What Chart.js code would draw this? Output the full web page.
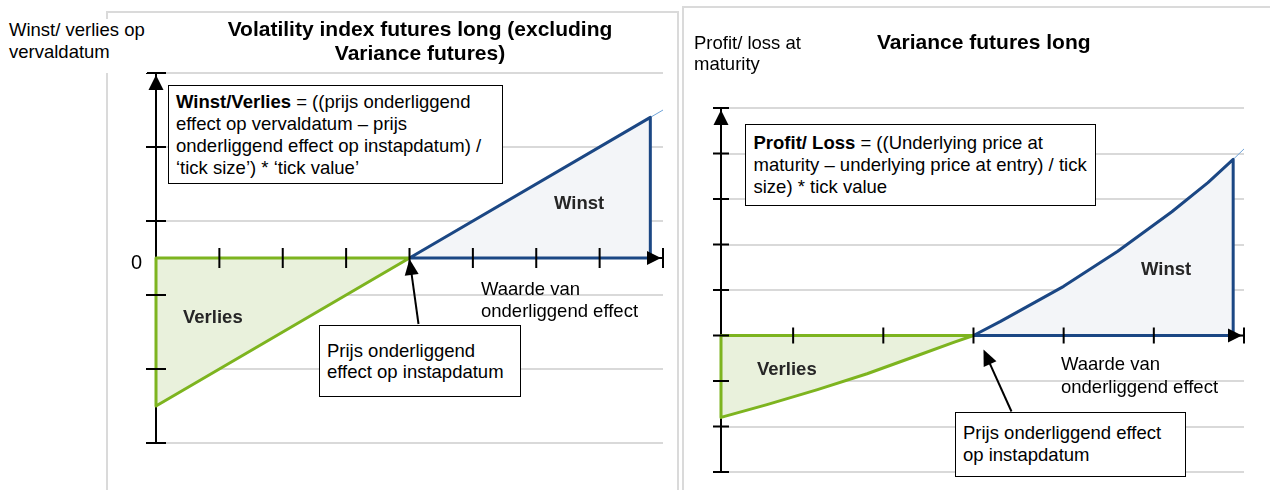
<!DOCTYPE html>
<html>
<head>
<meta charset="utf-8">
<script src="https://cdn.jsdelivr.net/npm/chart.js@4.4.0/dist/chart.umd.min.js"></script>
<style>
  html, body { margin: 0; padding: 0; background: #fff; }
  #page { position: relative; width: 1270px; height: 490px; overflow: hidden;
          font-family: "Liberation Sans", Arial, sans-serif; color: #000; }
  .panel { position: absolute; border: 2px solid #dadada; box-sizing: border-box; height: 520px; }
  canvas { position: absolute; top: 0; }
  .txt { position: absolute; font-size: 18.5px; line-height: 22px; white-space: nowrap; }
  .title { position: absolute; font-size: 21px; font-weight: bold; line-height: 24px; text-align: center; white-space: nowrap; }
  .box { position: absolute; background: #fff; border: 1.5px solid #000; box-sizing: border-box;
         font-size: 18.5px; line-height: 22px; white-space: nowrap; }
  .area { position: absolute; font-size: 18.5px; font-weight: bold; color: #262626; line-height: 22px; }
</style>
</head>
<body>
<div id="page">
  <div class="panel" style="left:106px; top:11px; width:573px;"></div>
  <div class="panel" style="left:682px; top:6px; width:600px;"></div>

  <canvas id="volChart" width="680" height="490" style="left:0"></canvas>
  <canvas id="varChart" width="590" height="490" style="left:680px"></canvas>

  <!-- left: volatility index futures -->
  <div class="txt" style="left:7px; top:19px; background:#fff; padding:0 2px 10px 2px;">Winst/ verlies op<br>vervaldatum</div>
  <div class="title" style="left:170px; top:17px; width:500px;">Volatility index futures long (excluding<br>Variance futures)</div>
  <div class="txt" style="left:131px; top:250px; font-size:20px; line-height:24px;">0</div>
  <div class="box" style="left:168px; top:85px; width:335px; padding:4.5px 7px;"><b>Winst/Verlies</b> = ((prijs onderliggend<br>effect op vervaldatum – prijs<br>onderliggend effect op instapdatum) /<br>‘tick size’) * ‘tick value’</div>
  <div class="area" style="left:554px; top:192px;">Winst</div>
  <div class="area" style="left:183px; top:306px;">Verlies</div>
  <div class="txt" style="left:481px; top:278px;">Waarde van<br>onderliggend effect</div>
  <div class="box" style="left:319px; top:325px; width:202px; height:72px; padding:13.5px 7px 0 7px; line-height:21.5px;">Prijs onderliggend<br>effect op instapdatum</div>

  <!-- right: variance futures -->
  <div class="txt" style="left:694px; top:32px; line-height:21px;">Profit/ loss at<br>maturity</div>
  <div class="title" style="left:877px; top:30px; width:200px;">Variance futures long</div>
  <div class="box" style="left:745px; top:124px; width:351px; height:82px; padding:6.5px 7.5px;"><b>Profit/ Loss</b> = ((Underlying price at<br>maturity – underlying price at entry) / tick<br>size) * tick value</div>
  <div class="area" style="left:1141px; top:258px;">Winst</div>
  <div class="area" style="left:757px; top:358px;">Verlies</div>
  <div class="txt" style="left:1061px; top:352px; line-height:23px;">Waarde van<br>onderliggend effect</div>
  <div class="box" style="left:955px; top:412px; width:231px; height:65px; padding:8.5px 7px 0 7px;">Prijs onderliggend effect<br>op instapdatum</div>
</div>

<script>
// Volatility index futures (linear payoff)
const volAxisX = [0, 8];
const volAxisY = [-2.5, 2.5];
const volTicksX = [1, 2, 3, 4, 5, 6, 7, 8];
const volTicksY = [-2.5, -1.5, -0.5, 0.5, 1.5, 2.5];
const volEntry = 4;
const volLossX = [0, 4];
const volLossY = [-2, 0];
const volProfitX = [4, 7.8];
const volProfitY = [0, 1.9];
const volLineX = [0, 8];
const volLineY = [-2, 2];

// Variance futures (convex payoff)
const varAxisX = [0.2, 6];
const varAxisY = [-3, 5];
const varTicksX = [1, 2, 3, 4, 5, 6];
const varTicksY = [-3, -2, -1, 0, 1, 2, 3, 4, 5];
const varEntry = 3;
const varLossX = [0.2, 0.71, 1.27, 1.82, 2.38, 2.78, 3.0];
const varLossY = [-1.8, -1.52, -1.19, -0.84, -0.44, -0.15, 0];
const varProfitX = [3.0, 3.3, 3.6, 4.0, 4.6, 5.2, 5.6, 5.88];
const varProfitY = [0, 0.31, 0.64, 1.08, 1.85, 2.72, 3.36, 3.87];
const varLineX = [0.2, 0.71, 1.27, 1.82, 2.38, 2.78, 3.0, 3.3, 3.6, 4.0, 4.6, 5.2, 5.6, 5.88, 6.0];
const varLineY = [-1.8, -1.52, -1.19, -0.84, -0.44, -0.15, 0, 0.31, 0.64, 1.08, 1.85, 2.72, 3.36, 3.87, 4.1];

const GREEN = '#7db41f', GREEN_FILL = '#e9f1dc';
const BLUE = '#1b4784', BLUE_FILL = '#f3f5f8';

const toPoints = (xs, ys) => xs.map((v, i) => ({ x: v, y: ys[i] }));

function arrowHead(ctx, tipX, tipY, angle, len, halfW) {
    ctx.save();
    ctx.translate(tipX, tipY);
    ctx.rotate(angle);
    ctx.beginPath();
    ctx.moveTo(0, 0);
    ctx.lineTo(-len, -halfW);
    ctx.lineTo(-len, halfW);
    ctx.closePath();
    ctx.fill();
    ctx.restore();
}

// axes with arrows and crossing tick marks, plus the callout arrow to the entry price
function payoffAxes(s) {
    return {
        id: 'payoffAxes',
        beforeDatasetsDraw(chart) {
            const { ctx, scales: { x, y } } = chart;
            const x0 = x.getPixelForValue(x.min), y0 = y.getPixelForValue(0);
            ctx.save();
            ctx.strokeStyle = '#000';
            ctx.lineWidth = 2;
            ctx.beginPath();
            ctx.moveTo(x0, y.getPixelForValue(y.min));
            ctx.lineTo(x0, y.getPixelForValue(y.max));
            ctx.moveTo(x0, y0);
            ctx.lineTo(x.getPixelForValue(x.max), y0);
            ctx.stroke();
            ctx.restore();
        },
        afterDatasetsDraw(chart) {
            const { ctx, scales: { x, y } } = chart;
            const x0 = x.getPixelForValue(x.min), y0 = y.getPixelForValue(0);
            const h = s.tickHalf;
            ctx.save();
            ctx.strokeStyle = '#000';
            ctx.fillStyle = '#000';
            ctx.lineWidth = 2;
            ctx.beginPath();
            s.yMarks.forEach(v => {
                if (s.skipZero && v === 0) return;
                const py = y.getPixelForValue(v);
                ctx.moveTo(x0 - h, py);
                ctx.lineTo(x0 + h, py);
            });
            s.xMarks.forEach(v => {
                const px = x.getPixelForValue(v);
                ctx.moveTo(px, y0 - h);
                ctx.lineTo(px, y0 + h);
            });
            ctx.stroke();

            arrowHead(ctx, x0, y.getPixelForValue(y.max) + 2, -Math.PI / 2, 15, 7.5);
            arrowHead(ctx, x.getPixelForValue(x.max) - 2, y0, 0, 14, 7);

            // callout arrow
            const tipX = x.getPixelForValue(s.entry) + s.tipOffset[0];
            const tipY = y0 + s.tipOffset[1];
            const tailX = tipX + s.tail[0], tailY = tipY + s.tail[1];
            const ang = Math.atan2(tipY - tailY, tipX - tailX);
            ctx.beginPath();
            ctx.moveTo(tailX, tailY);
            ctx.lineTo(tipX - Math.cos(ang) * 10, tipY - Math.sin(ang) * 10);
            ctx.stroke();
            arrowHead(ctx, tipX, tipY, ang, 16, 7);
            ctx.restore();
        }
    };
}

function shapeDataset(points, border, fill) {
    return {
        data: points,
        showLine: true,
        fill: 'shape',
        backgroundColor: fill,
        borderColor: border,
        borderWidth: 3,
        borderJoinStyle: 'round',
        pointRadius: 0,
        pointHoverRadius: 0,
        tension: 0,
        clip: false,
        order: 1
    };
}

function makeChart(id, c) {
    const lossLeg = toPoints(c.lossX, c.lossY);
    const profitLeg = toPoints(c.profitX, c.profitY);
    const lossShape = [{ x: c.entry, y: 0 }, { x: c.lossX[0], y: 0 }, ...lossLeg];
    const profitShape = [...profitLeg, { x: c.profitX[c.profitX.length - 1], y: 0 }, { x: c.entry, y: 0 }];

    return new Chart(document.getElementById(id), {
        type: 'scatter',
        data: {
            datasets: [
                shapeDataset(lossShape, GREEN, GREEN_FILL),
                shapeDataset(profitShape, BLUE, BLUE_FILL),
                {
                    data: toPoints(c.lineX, c.lineY),
                    showLine: true,
                    fill: false,
                    borderColor: '#6fa3d8',
                    borderWidth: 1,
                    pointRadius: 0,
                    pointHoverRadius: 0,
                    clip: false,
                    order: 2
                }
            ]
        },
        options: {
            responsive: false,
            animation: false,
            events: [],
            layout: { padding: c.padding },
            plugins: { legend: { display: false }, tooltip: { enabled: false } },
            scales: {
                x: { type: 'linear', display: false, min: c.axisX[0], max: c.axisX[1] },
                y: {
                    type: 'linear',
                    min: c.axisY[0],
                    max: c.axisY[1],
                    afterBuildTicks: scale => { scale.ticks = c.ticksY.map(v => ({ value: v })); },
                    ticks: { display: false },
                    border: { display: false },
                    grid: { color: '#d9d9d9', lineWidth: 2, drawTicks: false }
                }
            }
        },
        plugins: [payoffAxes({
            xMarks: c.ticksX, yMarks: c.ticksY, entry: c.entry, tickHalf: c.tickHalf,
            skipZero: c.skipZero, tipOffset: c.tipOffset, tail: c.tail
        })]
    });
}

makeChart('volChart', {
    axisX: volAxisX, axisY: volAxisY, ticksX: volTicksX, ticksY: volTicksY, entry: volEntry,
    lossX: volLossX, lossY: volLossY, profitX: volProfitX, profitY: volProfitY,
    lineX: volLineX, lineY: volLineY,
    padding: { left: 156, right: 17, top: 73, bottom: 47 },
    tickHalf: 10, skipZero: true, tipOffset: [0, 1], tail: [9, 65]
});

makeChart('varChart', {
    axisX: varAxisX, axisY: varAxisY, ticksX: varTicksX, ticksY: varTicksY, entry: varEntry,
    lossX: varLossX, lossY: varLossY, profitX: varProfitX, profitY: varProfitY,
    lineX: varLineX, lineY: varLineY,
    padding: { left: 41, right: 26, top: 108, bottom: 18 },
    tickHalf: 8, skipZero: false, tipOffset: [10, 14], tail: [28, 62]
});
</script>
</body>
</html>
